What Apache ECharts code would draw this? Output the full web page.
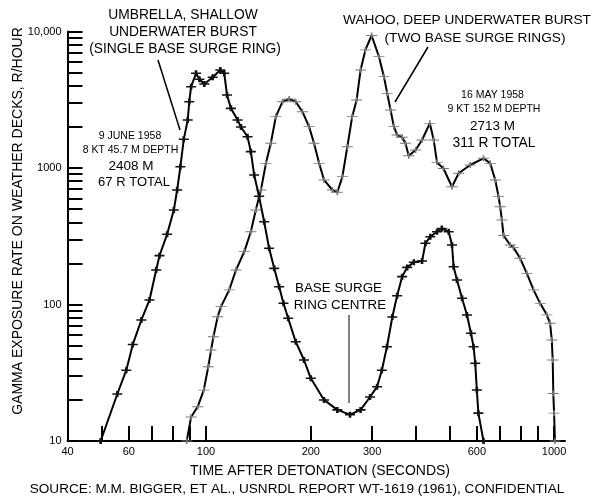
<!DOCTYPE html>
<html><head><meta charset="utf-8">
<script src="https://cdn.jsdelivr.net/npm/echarts@6/dist/echarts.min.js"></script>
<style>html,body{margin:0;padding:0;background:#fff}#c{width:594px;height:500px}</style>
</head><body><div id="c"></div>
<script>
// Umbrella shot (shallow underwater burst)
const umbrellaTime = [49.8, 55.6, 59, 61.6, 65.2, 68.8, 71.9, 73.5, 77.3, 80.8, 82.6, 84.4, 86.3, 88.6, 89.5, 90.6, 93.6, 95.7, 98.9, 104.5, 109.9, 112.8, 114.9, 117.9, 123.2, 126, 131.6, 134.5, 137.5, 142, 146.9, 151.8, 157, 162.2, 166.9, 172.2, 181, 191.2, 200, 218.3, 238.4, 259.2, 278, 296, 310, 320, 331, 343, 354, 366, 378.4, 395.4, 417.5, 427, 441, 461, 476, 498, 509, 514.5, 526, 544, 562, 577, 587, 593.6, 600, 606, 627];
const umbrellaRate = [10, 22.1, 33, 51, 77, 108, 179, 228, 327, 492, 690, 1023, 1622, 2248, 3060, 3940, 4940, 4470, 4120, 4620, 5220, 4940, 3430, 2735, 2248, 1995, 1695, 1318, 889, 620, 404, 258, 184, 135, 102, 79.2, 53.4, 39.2, 28.8, 20, 16.9, 15.6, 16.9, 21, 25, 33, 49, 81, 116, 160, 187, 204, 208, 281, 314, 341, 361, 341, 273, 189, 151, 111, 83.8, 61.5, 49.1, 37.1, 23.6, 16, 10];
// Wahoo shot (deep underwater burst)
const wahooTime = [88, 90.6, 94.6, 98.5, 101.5, 103.4, 105, 108, 110.4, 116.6, 121.9, 128.8, 134.5, 139, 142.1, 143.8, 148.6, 153.5, 158.7, 165.9, 173.3, 181, 189.2, 197.7, 204.3, 211.3, 218.3, 230.7, 238.4, 246.5, 254.7, 263, 270.8, 278, 287, 299, 314, 324.4, 331.6, 339, 346.5, 354, 366, 374, 382.4, 400, 417.5, 439.5, 451, 461, 481, 509, 532, 574, 627, 655.5, 677.6, 692.6, 700, 708, 716, 748, 764, 799, 835, 873, 912, 953, 974, 985, 991, 995, 1000, 1006];
const wahooRate = [10, 15, 17.8, 23.6, 35, 46.4, 58, 81.4, 96.4, 128, 179, 244, 341, 492, 617, 690, 1082, 1517, 2377, 3060, 3200, 3060, 2585, 2010, 1517, 1082, 817, 690, 665, 864, 1432, 2377, 3150, 5220, 7330, 9350, 6540, 4670, 3520, 2660, 2010, 1746, 1680, 1517, 1230, 1355, 1603, 2125, 1603, 1100, 992, 729, 915, 1052, 1178, 1082, 817, 617, 520, 416, 320, 273, 262, 218, 169, 128, 102, 84, 72.8, 55, 39.2, 22.3, 16, 10];

const xTickValues = [50, 60, 70, 80, 90, 100, 200, 300, 400, 500, 600, 700, 800, 900, 1000];
const xLabelValues = [40, 60, 100, 200, 300, 600, 1000];
const yTickValues = [10, 20, 30, 40, 50, 60, 70, 80, 90, 100, 200, 300, 400, 500, 600, 700, 800, 900, 1000, 2000, 3000, 4000, 5000, 6000, 7000, 8000, 9000, 10000];
const yLabelValues = [10, 100, 1000, 10000];

const FONT = "'Liberation Sans', Arial, Helvetica, sans-serif";
const zip = (a, b) => a.map((v, i) => [v, b[i]]);
const marker = 'path://M0,3H10M5,0V6';

function txt(x, y, s, size, extra) {
  return Object.assign({
    type: 'text', silent: true,
    style: { x: x, y: y, text: s, fill: '#000', font: size + 'px ' + FONT, textAlign: 'center', textVerticalAlign: 'middle' }
  }, extra || {});
}
function seg(x1, y1, x2, y2, w) {
  return { type: 'line', silent: true, shape: { x1: x1, y1: y1, x2: x2, y2: y2 }, style: { stroke: '#000', lineWidth: w } };
}

const chart = echarts.init(document.getElementById('c'), null, { renderer: 'canvas' });
chart.setOption({
  animation: false,
  backgroundColor: '#fff',
  grid: { left: 67.5, right: 29, top: 31.5, bottom: 59 },
  xAxis: {
    type: 'log', logBase: 10, min: 39.99, max: 1075,
    splitLine: { show: false },
    axisLine: { lineStyle: { color: '#000', width: 2 } },
    axisTick: { customValues: xTickValues, inside: true, length: 15, lineStyle: { color: '#000', width: 2 } },
    axisLabel: { customValues: xLabelValues, color: '#000', fontSize: 11, fontFamily: FONT, margin: 5,
      formatter: v => String(Math.round(v)) }
  },
  yAxis: {
    type: 'log', logBase: 10, min: 9.999, max: 10001,
    splitLine: { show: false },
    axisLine: { lineStyle: { color: '#000', width: 2 } },
    axisTick: { customValues: yTickValues, inside: true, length: 15, lineStyle: { color: '#000', width: 2 } },
    axisLabel: { customValues: yLabelValues, color: '#000', fontSize: 11, fontFamily: FONT, margin: 6,
      formatter: v => (Math.round(v) >= 10000 ? '10,000' : String(Math.round(v))) }
  },
  series: [
    {
      name: 'Wahoo', type: 'line', data: zip(wahooTime, wahooRate), z: 2,
      symbol: marker, symbolSize: [11, 6],
      lineStyle: { color: '#000', width: 2 },
      itemStyle: { color: '#777', borderColor: '#777', borderWidth: 1.2 }
    },
    {
      name: 'Umbrella', type: 'line', data: zip(umbrellaTime, umbrellaRate), z: 3,
      symbol: marker, symbolSize: [10, 6],
      lineStyle: { color: '#000', width: 2 },
      itemStyle: { color: '#111', borderColor: '#111', borderWidth: 2 }
    }
  ],
  graphic: [
    txt(183, 15, 'UMBRELLA, SHALLOW', 13.8),
    txt(183, 32, 'UNDERWATER BURST', 13.8),
    txt(185, 49, '(SINGLE BASE SURGE RING)', 13.8),
    seg(158, 60, 180, 130, 1.5),
    txt(130, 136, '9 JUNE 1958', 10.5),
    txt(130.5, 150, '8 KT 45.7 M DEPTH', 10.5),
    txt(131, 166, '2408 M', 13.5),
    txt(134, 182, '67 R TOTAL', 13),
    txt(467, 20, 'WAHOO, DEEP UNDERWATER BURST', 13.7),
    txt(475, 38, '(TWO BASE SURGE RINGS)', 13.7),
    seg(428, 47, 395, 102, 1.5),
    txt(492.5, 95, '16 MAY 1958', 10.5),
    txt(494, 109, '9 KT 152 M DEPTH', 10.5),
    txt(492.5, 126, '2713 M', 13.5),
    txt(494, 143, '311 R TOTAL', 13.8),
    txt(338.5, 288, 'BASE SURGE', 13.4),
    txt(340, 305, 'RING CENTRE', 13.4),
    seg(349, 315, 349, 403, 1),
    txt(320, 471, 'TIME AFTER DETONATION (SECONDS)', 14),
    txt(297, 489.5, 'SOURCE: M.M. BIGGER, ET AL., USNRDL REPORT WT-1619 (1961), CONFIDENTIAL', 13.6),
    txt(18, 221, 'GAMMA EXPOSURE RATE ON WEATHER DECKS, R/HOUR', 14, { x: 18, y: 221, rotation: Math.PI / 2, style: { x: 0, y: 0, text: 'GAMMA EXPOSURE RATE ON WEATHER DECKS, R/HOUR', fill: '#000', font: '14px ' + FONT, textAlign: 'center', textVerticalAlign: 'middle' } })
  ]
});
</script></body></html>
